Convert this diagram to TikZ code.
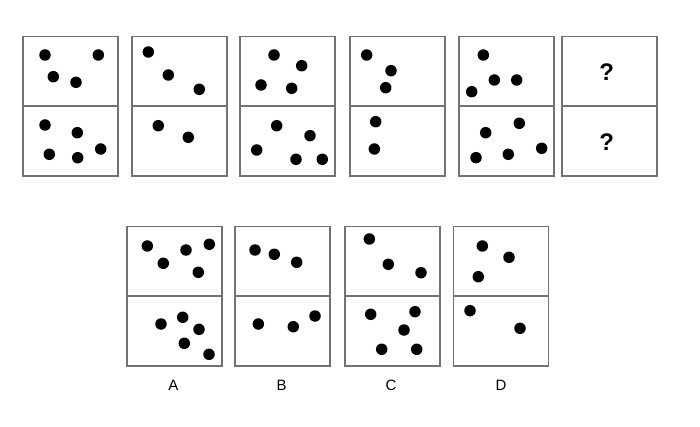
\documentclass[tikz,border=0pt]{standalone}
\usepackage{fontspec}
\setmainfont{Liberation Sans}
\begin{document}
\begin{tikzpicture}[x=1pt,y=-1pt,
  cell/.style={draw=black!55,line width=1.6pt,minimum width=95pt,minimum height=139.3pt,inner sep=0pt,anchor=north west},
  mid/.style={draw=black!55,line width=1.6pt},
  dot/.style={circle,fill=black,minimum size=11.5pt,inner sep=0pt},
  qm/.style={font=\bfseries\fontsize{24}{24}\selectfont,inner sep=0pt},
  lab/.style={font=\fontsize{15}{15}\selectfont,inner sep=0pt}]
  \useasboundingbox (0,0) rectangle (700,427);
  % one card: frame plus the line between its two halves
  \newcommand{\card}[3]{%
    \node[cell] (#1) at (#2,#3) {};
    \draw[mid] (#1.west) -- (#1.east);}
  % question row
  \card{q1}{22.3}{35.7}
  \card{q2}{131}{35.7}
  \card{q3}{239}{35.7}
  \card{q4}{349.3}{35.7}
  \card{q5}{458.3}{35.7}
  \card{q6}{561}{35.7}
  % answer row
  \card{oA}{126}{225.7}
  \card{oB}{234}{225.7}
  \card{oC}{344}{225.7}
  \card{oD}{452.7}{225.7}
  % dots, upper (t) and lower (b) half of each card
  \foreach \px/\py [count=\k] in {45/55,98.3/55,53.3/76.7,76/82.3} \node[dot] (q1t\k) at (\px,\py) {};
  \foreach \px/\py [count=\k] in {45/125,77.3/132.7,49.3/154.3,77.7/157.7,100.7/149} \node[dot] (q1b\k) at (\px,\py) {};
  \foreach \px/\py [count=\k] in {148.3/52,168.3/75,199.3/89.3} \node[dot] (q2t\k) at (\px,\py) {};
  \foreach \px/\py [count=\k] in {158.3/125.7,188.3/137.3} \node[dot] (q2b\k) at (\px,\py) {};
  \foreach \px/\py [count=\k] in {274/55,301.7/65.7,261/85,291.7/88.3} \node[dot] (q3t\k) at (\px,\py) {};
  \foreach \px/\py [count=\k] in {276.7/125.7,310/135.7,256.7/150,296/159.3,322.3/159.3} \node[dot] (q3b\k) at (\px,\py) {};
  \foreach \px/\py [count=\k] in {366.7/55,391/70.7,385.7/87.7} \node[dot] (q4t\k) at (\px,\py) {};
  \foreach \px/\py [count=\k] in {375.7/121.7,374.3/149} \node[dot] (q4b\k) at (\px,\py) {};
  \foreach \px/\py [count=\k] in {483.3/55,494.3/80,516.7/80,471.7/91.7} \node[dot] (q5t\k) at (\px,\py) {};
  \foreach \px/\py [count=\k] in {519.3/123.3,485.7/132.7,541.7/148.3,476/157.7,508.3/154.3} \node[dot] (q5b\k) at (\px,\py) {};
  \node[qm] (q6t) at (606.7,71.7) {?};
  \node[qm] (q6b) at (606.7,141.7) {?};
  \foreach \px/\py [count=\k] in {147.3/246,163.3/263.3,186/250,209.3/244.3,198.3/272.3} \node[dot] (oAt\k) at (\px,\py) {};
  \foreach \px/\py [count=\k] in {161/324,182.7/317.3,199/329.3,184.3/343.3,209/354.3} \node[dot] (oAb\k) at (\px,\py) {};
  \foreach \px/\py [count=\k] in {255/250,274.3/254.3,296.7/262.3} \node[dot] (oBt\k) at (\px,\py) {};
  \foreach \px/\py [count=\k] in {258.3/324,293.3/326.7,315/316} \node[dot] (oBb\k) at (\px,\py) {};
  \foreach \px/\py [count=\k] in {369.3/239,388.3/264.3,421/272.7} \node[dot] (oCt\k) at (\px,\py) {};
  \foreach \px/\py [count=\k] in {370.7/314.3,415/311.7,404/330,381.7/349.3,416.7/349.3} \node[dot] (oCb\k) at (\px,\py) {};
  \foreach \px/\py [count=\k] in {482.3/246,509/257.3,478.3/276.7} \node[dot] (oDt\k) at (\px,\py) {};
  \foreach \px/\py [count=\k] in {470/310.7,520/328.3} \node[dot] (oDb\k) at (\px,\py) {};
  % option letters
  \node[lab] (lA) at (173.3,385) {A};
  \node[lab] (lB) at (281.7,385) {B};
  \node[lab] (lC) at (391,385) {C};
  \node[lab] (lD) at (501,385) {D};
\end{tikzpicture}
\end{document}
